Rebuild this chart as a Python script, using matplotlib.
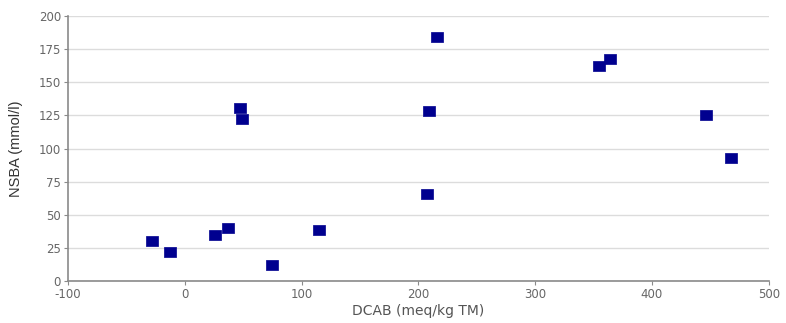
import matplotlib
matplotlib.use("Agg")
import matplotlib.pyplot as plt

# DCAB (meq/kg TM) vs NSBA (mmol/l)
dcab = [-28, -13, 26, 37, 75, 47, 49, 115, 207, 209, 216, 355, 364, 446, 468]
nsba = [30, 22, 35, 40, 12, 131, 122, 38.5, 66, 128, 184, 162, 168, 125, 93]

x_ticks = [-100, 0, 100, 200, 300, 400, 500]
y_ticks = [0, 25, 50, 75, 100, 125, 150, 175, 200]

plt.rcParams['font.family'] = ['DejaVu Sans']
plt.rcParams['axes.unicode_minus'] = False

fig = plt.figure(figsize=(7.86, 3.23), dpi=100)
ax = fig.add_axes([0.0865, 0.130, 0.8915, 0.820])

# wide rectangular marker
rect = [(-1, -0.74), (1, -0.74), (1, 0.74), (-1, 0.74), (-1, -0.74)]
ax.plot(dcab, nsba, linestyle='none', marker=rect, markersize=9.0,
        color='#00008f', markeredgecolor='#00008f', markeredgewidth=0.5,
        zorder=3)

ax.set_xlim(-100, 500)
ax.set_ylim(0, 200)
ax.set_xticks(x_ticks)
ax.set_yticks(y_ticks)

ax.grid(axis='y', color='#dcdcdc', linewidth=1)
ax.set_axisbelow(True)
for s in ['top', 'right']:
    ax.spines[s].set_visible(False)
for s in ['left', 'bottom']:
    ax.spines[s].set_color('#8a8a8a')
    ax.spines[s].set_linewidth(1.2)
ax.tick_params(colors='#8a8a8a', labelcolor='#666666', labelsize=8.5, length=3,
               pad=2)

ax.set_xlabel("DCAB (meq/kg TM)", fontsize=10, color='#555555', labelpad=2)
ax.set_ylabel("NSBA (mmol/l)", fontsize=10.5, color='#333333', labelpad=11,
              family='Liberation Sans')

fig.savefig("out.png", dpi=100)
